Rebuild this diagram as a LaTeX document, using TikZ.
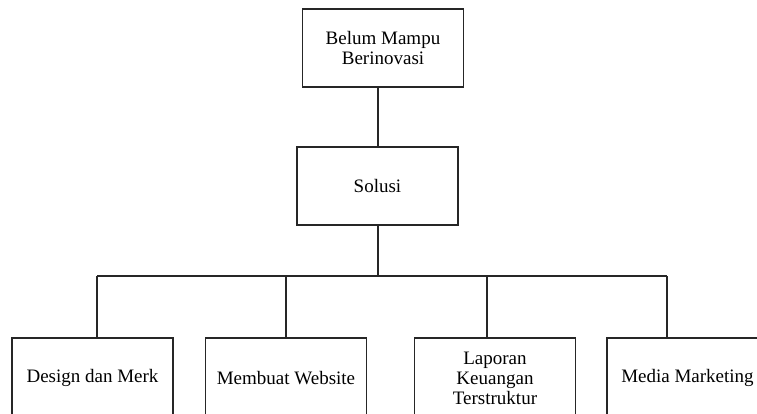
\documentclass[tikz,border=0pt]{standalone}
\usepackage{fontspec}
\setmainfont{Liberation Serif}
\usepackage{tikz}

\begin{document}
\begin{tikzpicture}[x=1pt, y=-1pt,
		kotak/.style={draw=black!85, line width=1.2pt, minimum width=161pt, minimum height=78pt, inner sep=0pt, align=center, font=\fontsize{19}{20}\selectfont},
		garis/.style={draw=black!85, line width=1.1pt}]
	\useasboundingbox (0,0) rectangle (757,413);
	\clip (0,0) rectangle (757,413);
	
	% Masalah dan solusi
	\node[kotak] (masalah) at (383,48) {Belum Mampu\\Berinovasi};
	\node[kotak] (solusi) at (377.5,186) {Solusi};
	
	% Empat langkah
	\node[kotak, minimum height=80pt] (design) at (92.5,378) {Design dan Merk};
	\node[kotak, minimum height=80pt] (website) at (286,378) {Membuat Website};
	\node[kotak, minimum height=80pt] (laporan) at (495,378) {Laporan\\Keuangan\\Terstruktur};
	\node[kotak, minimum height=80pt] (media) at (687.5,378) {Media Marketing};
	
	% Garis penghubung
	\coordinate (busL) at (97,276);
	\coordinate (busR) at (667,276);
	\draw[garis] ([xshift=-5pt]masalah.south) -- ([xshift=-5pt]masalah.south |- solusi.north);
	\draw[garis] ([xshift=0.5pt]solusi.south) -- ([xshift=0.5pt]solusi.south |- busL);
	\draw[garis] (busL) -- (busR);
	\draw[garis] (busL) -- (busL |- design.north);
	\draw[garis] (website.north) -- (website.north |- busL);
	\draw[garis] ([xshift=-8pt]laporan.north) -- ([xshift=-8pt]laporan.north |- busL);
	\draw[garis] (busR) -- (busR |- media.north);
\end{tikzpicture}
\end{document}
